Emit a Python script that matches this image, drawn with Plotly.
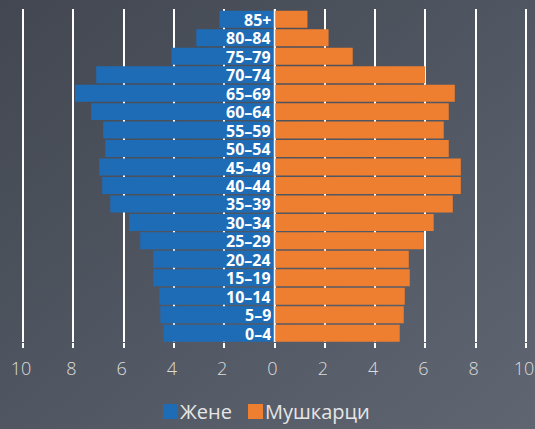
import plotly.graph_objects as go

age_groups = ["0–4", "5–9", "10–14", "15–19", "20–24", "25–29", "30–34", "35–39",
              "40–44", "45–49", "50–54", "55–59", "60–64", "65–69", "70–74",
              "75–79", "80–84", "85+"]
women = [4.42, 4.54, 4.58, 4.82, 4.82, 5.34, 5.78, 6.53, 6.85, 6.97, 6.73, 6.81,
         7.29, 7.93, 7.09, 4.10, 3.11, 2.19]
men = [4.98, 5.14, 5.18, 5.38, 5.34, 5.94, 6.33, 7.09, 7.41, 7.41, 6.93, 6.73,
       6.93, 7.17, 5.99, 3.11, 2.15, 1.31]
tick_vals = [-10, -8, -6, -4, -2, 0, 2, 4, 6, 8, 10]
tick_text = ["10", "8", "6", "4", "2", "0", "2", "4", "6", "8", "10"]
series_names = ["Жене", "Мушкарци"]

BLUE = "#1f6cb6"
ORANGE = "#ee7e30"

fig = go.Figure()
fig.add_trace(go.Bar(y=age_groups, x=[-v for v in women], orientation="h",
                     name=series_names[0], marker=dict(color=BLUE, line=dict(width=0)),
                     hoverinfo="skip", showlegend=False))
fig.add_trace(go.Bar(y=age_groups, x=men, orientation="h",
                     name=series_names[1], marker=dict(color=ORANGE, line=dict(width=0)),
                     hoverinfo="skip", showlegend=False))

for ag in age_groups:
    fig.add_annotation(x=0, y=ag, xref="x", yref="y", text="<b>%s</b>" % ag,
                       showarrow=False, xanchor="right", xshift=-3,
                       height=15, borderpad=0, valign="middle",
                       font=dict(family="Open Sans", size=16, color="white"))

fig.add_shape(type="line", xref="x", yref="paper", x0=0, x1=0, y0=0, y1=1,
              line=dict(color="rgba(255,255,255,0.9)", width=1.5), layer="above")

W, H = 535, 429
ml, mr, mt, mb = 18, 4, 9, 87
pw, ph = W - ml - mr, H - mt - mb


def px_x(p):
    return (p - ml) / pw


def px_y(p):
    return (H - mb - p) / ph


# custom legend (square swatches + labels)
legend_items = [(series_names[0], BLUE, 163), (series_names[1], ORANGE, 248)]
for name, col, sx in legend_items:
    fig.add_shape(type="rect", xref="paper", yref="paper",
                  x0=px_x(sx), x1=px_x(sx + 15), y0=px_y(404), y1=px_y(419),
                  fillcolor=col, line=dict(width=0))
    fig.add_annotation(x=px_x(sx + 15), y=px_y(411), xref="paper", yref="paper",
                       text=name, showarrow=False, xanchor="left", yanchor="middle",
                       font=dict(family="Open Sans", size=20, color="#e6e6e6"))

grad_svg = ("data:image/svg+xml;utf8,"
            "<svg xmlns='http://www.w3.org/2000/svg' width='535' height='429'>"
            "<defs><linearGradient id='g' x1='0' y1='0' x2='1' y2='1'>"
            "<stop offset='0' stop-color='%23424751'/>"
            "<stop offset='1' stop-color='%235f6672'/>"
            "</linearGradient></defs>"
            "<rect width='535' height='429' fill='url(%23g)'/></svg>")

fig.add_layout_image(dict(source=grad_svg, xref="paper", yref="paper",
                          x=-ml / pw, y=1 + mt / ph,
                          sizex=W / pw, sizey=H / ph,
                          xanchor="left", yanchor="top", sizing="stretch",
                          layer="below"))

fig.update_layout(
    width=W, height=H,
    margin=dict(l=ml, r=mr, t=mt, b=mb),
    barmode="overlay", bargap=0.08,
    paper_bgcolor="#4b515c", plot_bgcolor="rgba(0,0,0,0)",
    showlegend=False,
    xaxis=dict(range=[-10.2, 10.2], tickvals=tick_vals, ticktext=tick_text,
               showgrid=True, gridcolor="white", gridwidth=1.5,
               zeroline=False, showline=False,
               ticks="outside", ticklen=5, tickcolor="white", tickwidth=1.5,
               tickfont=dict(family="Open Sans", size=18, color="#dcdcdc", weight=300),
               ticklabeloverflow="allow", ticklabelshift=-2, ticklabelstandoff=5,
               automargin=False, fixedrange=True),
    yaxis=dict(categoryorder="array", categoryarray=age_groups,
               range=[-0.48, 17.56], showticklabels=False, showgrid=False,
               zeroline=False, showline=False, fixedrange=True),
)

fig.write_html("out.html", post_script="document.body.style.margin='0';",
               config={"displayModeBar": False})
